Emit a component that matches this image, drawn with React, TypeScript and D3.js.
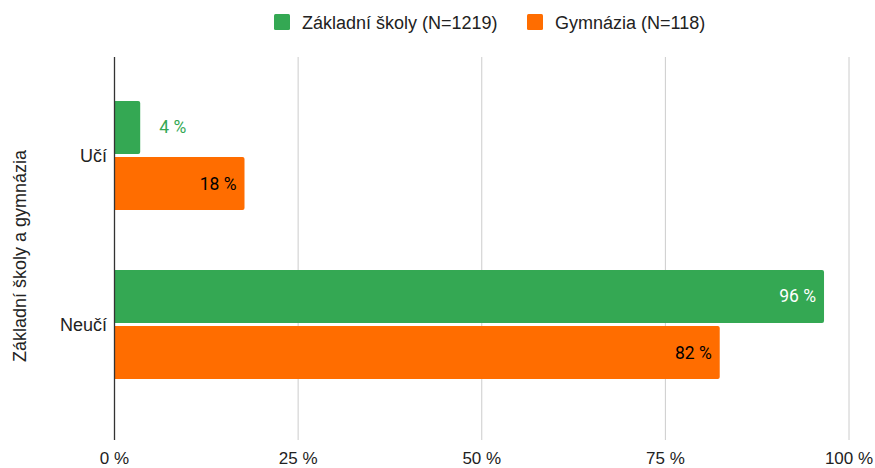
import React from "react";
import * as d3 from "d3";

const categories = ["Učí", "Neučí"];
const seriesNames = ["Základní školy (N=1219)", "Gymnázia (N=118)"];
const zakladniValues = [3.5, 96.6];
const gymnaziaValues = [17.7, 82.4];
const valueLabels = [["4 %", "18 %"], ["96 %", "82 %"]];
const xTicks = [0, 25, 50, 75, 100];
const yTitle = "Základní školy a gymnázia";

const colors = ["#34a853", "#ff6d00"];

export default function App() {
  const W = 875, H = 468;
  const x = d3.scaleLinear().domain([0, 100]).range([114.5, 849]);
  const y = d3.scaleBand<string>().domain(categories).range([71, 409]).paddingInner(0.355).paddingOuter(0.1775);
  const inner = d3.scaleBand<number>().domain([0, 1]).range([0, y.bandwidth()]).paddingInner(0.054);
  const series = [zakladniValues, gymnaziaValues];
  const font = "'Liberation Sans', Arial, sans-serif";
  const labelFont = "Roboto, sans-serif";
  const gridTop = 57, gridBottom = 440;

  return (
    <svg width={W} height={H} style={{ position: "absolute", left: 0, top: 0 }}>
      <rect width={W} height={H} fill="#fff" />
      {xTicks.filter(t => t > 0).map(t => (
        <line key={t} x1={x(t)} x2={x(t)} y1={gridTop} y2={gridBottom} stroke="#cccccc" strokeWidth={1} />
      ))}
      {categories.map((c, ci) => series.map((vals, si) => {
        const y0 = (y(c) as number) + (inner(si) as number);
        const h = inner.bandwidth();
        const x0 = x(0);
        const x1 = x(vals[ci]);
        const w = x1 - x0;
        const r = 2;
        const path = `M${x0},${y0} H${x1 - r} Q${x1},${y0} ${x1},${y0 + r} V${y0 + h - r} Q${x1},${y0 + h} ${x1 - r},${y0 + h} H${x0} Z`;
        const lbl = valueLabels[ci][si];
        const inside = w > 60;
        const fill = inside ? (si === 0 ? "#ffffff" : "#000000") : colors[si];
        return (
          <g key={c + si}>
            <path d={path} fill={colors[si]} />
            <text x={inside ? x1 - 8 : x1 + 19} y={y0 + h / 2 + 6} textAnchor={inside ? "end" : "start"}
              fontFamily={labelFont} fontSize={17.5} fill={fill}>{lbl}</text>
          </g>
        );
      }))}
      <line x1={x(0)} x2={x(0)} y1={gridTop} y2={gridBottom} stroke="#333333" strokeWidth={1.3} />
      {xTicks.map(t => (
        <text key={t} x={x(t)} y={464} textAnchor="middle" fontFamily={font} fontSize={17} fill="#222">{`${t} %`}</text>
      ))}
      {categories.map(c => (
        <text key={c} x={107} y={(y(c) as number) + y.bandwidth() / 2 + 6} textAnchor="end" fontFamily={font} fontSize={18} fill="#222">{c}</text>
      ))}
      <text transform={`translate(26,256) rotate(-90)`} textAnchor="middle" fontFamily={font} fontSize={18} fill="#222">{yTitle}</text>
      {seriesNames.map((s, i) => {
        const lx = i === 0 ? 274 : 527;
        return (
          <g key={s}>
            <rect x={lx} y={14} width={16} height={16} rx={1.5} fill={colors[i]} />
            <text x={lx + 28} y={28.5} fontFamily={font} fontSize={18} fill="#222">{s}</text>
          </g>
        );
      })}
    </svg>
  );
}
